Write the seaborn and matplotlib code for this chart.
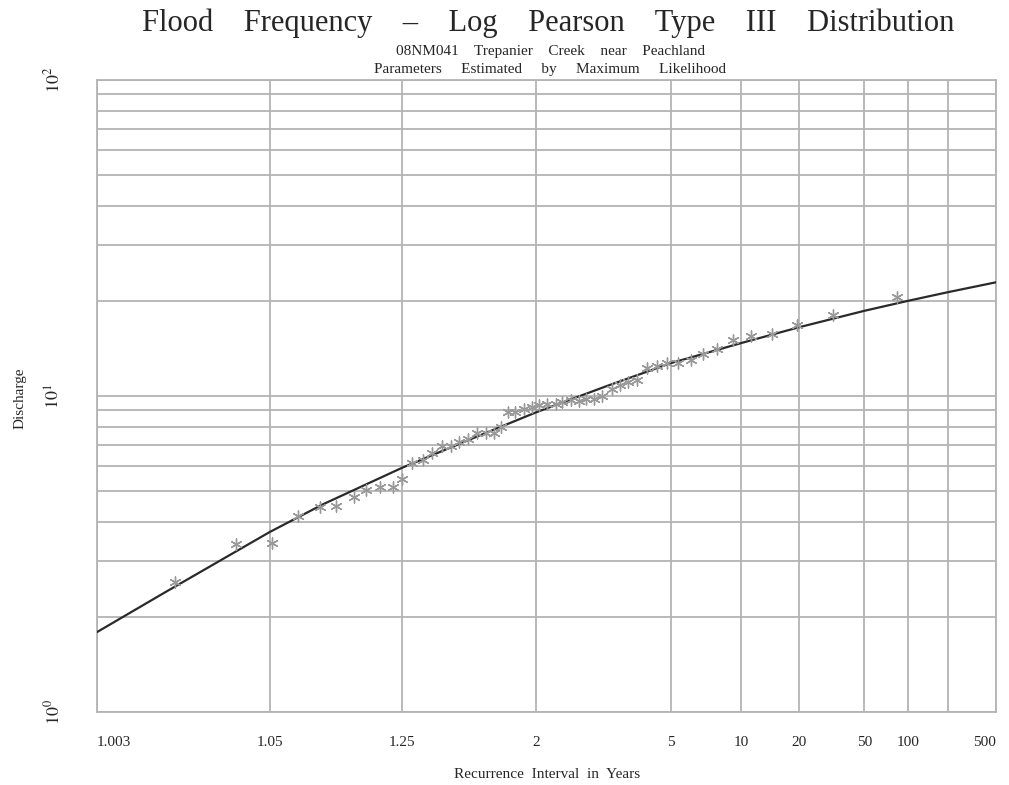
import math
from statistics import NormalDist
import numpy as np
import pandas as pd
import matplotlib
matplotlib.use("Agg")
import matplotlib.pyplot as plt
import seaborn as sns

# ---------------- data ----------------
obs_T = [1.012, 1.031, 1.052, 1.073, 1.096, 1.118, 1.145, 1.168, 1.197, 1.226,
         1.252, 1.281, 1.316, 1.347, 1.386, 1.424, 1.460, 1.505, 1.553, 1.606,
         1.657, 1.705, 1.756, 1.811, 1.887, 1.961, 2.030, 2.116, 2.221, 2.296,
         2.419, 2.538, 2.650, 2.789, 2.941, 3.151, 3.336, 3.539, 3.788, 4.100,
         4.448, 4.843, 5.336, 6.013, 6.743, 7.752, 9.16, 11.17, 14.27, 19.46,
         31.5, 83.3]
obs_Q = [2.58, 3.40, 3.43, 4.17, 4.45, 4.48, 4.79, 5.04, 5.15, 5.15,
         5.46, 6.14, 6.27, 6.60, 6.95, 6.95, 7.15, 7.31, 7.64, 7.64,
         7.64, 7.98, 8.90, 8.90, 9.10, 9.23, 9.35, 9.40, 9.40, 9.55,
         9.70, 9.65, 9.80, 9.80, 10.0, 10.5, 10.8, 11.1, 11.2, 12.3,
         12.4, 12.7, 12.7, 13.0, 13.6, 14.1, 15.0, 15.5, 15.7, 16.8,
         18.0, 20.6]

fit_T = [1.003, 1.01, 1.05, 1.1, 1.25, 1.5, 2, 3, 5, 10, 20, 50, 100, 200, 500]
fit_Q = [1.79, 2.38, 3.71, 4.54, 5.92, 7.23, 8.88, 10.7, 12.7, 14.7, 16.5, 18.6,
         20.0, 21.3, 22.9]

tick_T = [1.003, 1.05, 1.25, 2, 5, 10, 20, 50, 100, 200, 500]
tick_lab = ["1.003", "1.05", "1.25", "2", "5", "10", "20", "50", "100", "", "500"]

# ---------------- probability scale ----------------
_nd = NormalDist()
_inv = np.vectorize(lambda p: _nd.inv_cdf(p) if np.isfinite(p) else np.nan,
                    otypes=[float])
_erfc = np.vectorize(lambda v: math.erfc(v) if np.isfinite(v) else np.nan,
                     otypes=[float])


def fwd(T):
    T = np.asarray(T, dtype=float)
    with np.errstate(divide="ignore", invalid="ignore"):
        p = 1.0 - 1.0 / T
    p = np.clip(p, 1e-9, 1 - 1e-9)
    return _inv(p)


def inv(z):
    z = np.asarray(z, dtype=float)
    q = 0.5 * _erfc(z / math.sqrt(2.0))
    q = np.clip(q, 1e-12, 1.0)
    return 1.0 / q


sns.set_style("white")
plt.rcParams["font.family"] = ["Liberation Serif", "DejaVu Serif"]
plt.rcParams["mathtext.fontset"] = "stix"

fig = plt.figure(figsize=(10.09, 7.85), dpi=100)
ax = fig.add_axes([97 / 1009, 1 - 712 / 785, (996 - 97) / 1009, (712 - 80) / 785])

ax.set_xscale("function", functions=(fwd, inv))
ax.set_yscale("log")

obs = pd.DataFrame({"T": obs_T, "Q": obs_Q})
fit = pd.DataFrame({"T": fit_T, "Q": fit_Q})

sns.lineplot(data=fit, x="T", y="Q", ax=ax, color="#2a2a2a", linewidth=1.6,
             sort=True, zorder=3)
sns.scatterplot(data=obs, x="T", y="Q", ax=ax, marker=(6, 2, 0), s=64,
                color="#999999", edgecolor="#999999", linewidth=1.0, zorder=4)

ax.set_xlim(1.003, 500)
ax.set_ylim(1, 100)

ax.set_xticks(tick_T)
ax.set_xticklabels(tick_lab)
ax.xaxis.set_minor_locator(matplotlib.ticker.NullLocator())
for lab, t in zip(ax.get_xticklabels(), tick_T):
    lab.set_fontsize(11)
    if t == 1.003:
        lab.set_ha("left")
    elif t == 500:
        lab.set_ha("right")

ax.set_yticks([1, 10, 100])
ax.set_yticklabels([r"$10^{0}$", r"$10^{1}$", r"$10^{2}$"], rotation=90,
                   va="center", fontsize=13)
ax.yaxis.set_minor_locator(matplotlib.ticker.LogLocator(base=10, subs=np.arange(2, 10)))
ax.yaxis.set_minor_formatter(matplotlib.ticker.NullFormatter())

ax.tick_params(axis="both", which="both", length=0)
ax.tick_params(axis="x", pad=17)
ax.tick_params(axis="y", pad=24)

ax.grid(True, which="major", axis="x", color="#b4b4b4", linewidth=1.3)
ax.grid(True, which="both", axis="y", color="#b4b4b4", linewidth=1.3)
ax.set_axisbelow(True)
for sp in ax.spines.values():
    sp.set_color("#b4b4b4")
    sp.set_linewidth(1.3)

ax.set_xlabel("Recurrence  Interval  in  Years", fontsize=11)
ax.set_ylabel("Discharge", fontsize=11)
ax.xaxis.set_label_coords((547 - 97) / (996 - 97), -(768 - 712) / (712 - 80))
ax.yaxis.set_label_coords(-(97 - 27) / (996 - 97), (712 - 398) / (712 - 80))

fig.text(548 / 1009, 1 - 23 / 785,
         "Flood    Frequency    –    Log    Pearson    Type    III    Distribution",
         ha="center", va="center", fontsize=22)
fig.text(550 / 1009, 1 - 52 / 785, "08NM041    Trepanier    Creek    near    Peachland",
         ha="center", va="center", fontsize=11)
fig.text(550 / 1009, 1 - 69 / 785,
         "Parameters     Estimated     by     Maximum     Likelihood",
         ha="center", va="center", fontsize=11)

fig.savefig("out.png", dpi=100)
